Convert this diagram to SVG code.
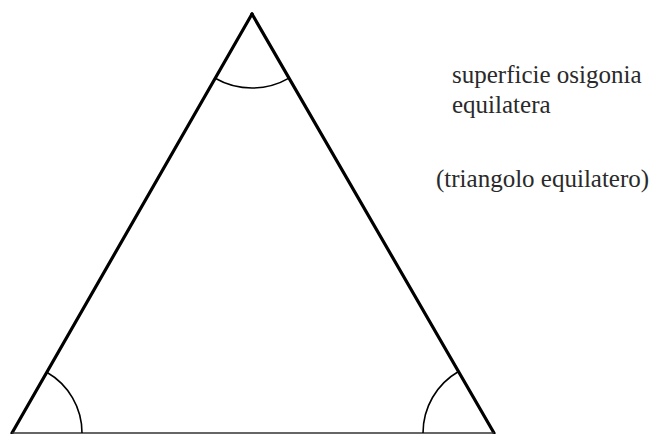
<svg xmlns="http://www.w3.org/2000/svg" width="655" height="434" viewBox="0 0 655 434">
<style>
.side{stroke:#000;stroke-width:3.2;fill:none;stroke-linecap:round}
.base{stroke:#333;stroke-width:1.5;fill:none}
.arc{stroke:#000;stroke-width:1.6;fill:none}
.lbl{font-family:"Liberation Serif","Times New Roman",serif;font-size:25px;fill:#2a2a2a}
</style>
<rect width="655" height="434" fill="#fff"/>
<g id="connectors">
<line class="side" x1="12" y1="433" x2="252" y2="14"/>
<line class="side" x1="252" y1="14" x2="494" y2="433"/>
<line class="base" x1="12" y1="433" x2="494" y2="433"/>
</g>
<g id="angle-top"><path class="arc" d="M215.2,78.2 A74,74 0 0,0 289,78.1"/></g>
<g id="angle-left"><path class="arc" d="M46.8,372.3 A70,70 0 0,1 82,433"/></g>
<g id="angle-right"><path class="arc" d="M458.5,371.5 A71,71 0 0,0 423,433"/></g>
<g id="label">
<text class="lbl" x="452" y="83">superficie osigonia</text>
<text class="lbl" x="452" y="113">equilatera</text>
<text class="lbl" x="436" y="187">(triangolo equilatero)</text>
</g>
</svg>
